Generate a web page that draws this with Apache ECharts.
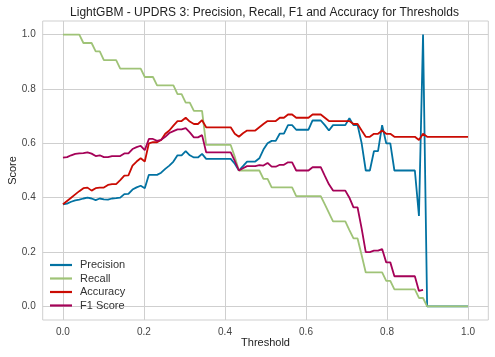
<!DOCTYPE html>
<html>
<head>
<meta charset="utf-8">
<script src="https://cdn.jsdelivr.net/npm/echarts@6/dist/echarts.min.js"></script>
<style>
html,body{margin:0;padding:0;background:#fff;}
#chart{width:495px;height:357px;}
</style>
</head>
<body>
<div id="chart"></div>
<script>
const thresholds = [
0.0000,0.0101,0.0202,0.0303,0.0404,0.0505,0.0606,0.0707,0.0808,0.0909,
0.1010,0.1111,0.1212,0.1313,0.1414,0.1515,0.1616,0.1717,0.1818,0.1919,
0.2020,0.2121,0.2222,0.2323,0.2424,0.2525,0.2626,0.2727,0.2828,0.2929,
0.3030,0.3131,0.3232,0.3333,0.3434,0.3535,0.3636,0.3737,0.3838,0.3939,
0.4040,0.4141,0.4242,0.4343,0.4444,0.4545,0.4646,0.4747,0.4848,0.4949,
0.5051,0.5152,0.5253,0.5354,0.5455,0.5556,0.5657,0.5758,0.5859,0.5960,
0.6061,0.6162,0.6263,0.6364,0.6465,0.6566,0.6667,0.6768,0.6869,0.6970,
0.7071,0.7172,0.7273,0.7374,0.7475,0.7576,0.7677,0.7778,0.7879,0.7980,
0.8081,0.8182,0.8283,0.8384,0.8485,0.8586,0.8687,0.8788,0.8889,0.8990,
0.9091,0.9192,0.9293,0.9394,0.9495,0.9596,0.9697,0.9798,0.9899,1.0000];

const precision = [
0.375,0.378,0.385,0.390,0.393, 0.397,0.400,0.397,0.391,0.397,
0.394,0.393,0.397,0.398,0.400, 0.413,0.414,0.430,0.438,0.444,
0.435,0.484,0.484,0.484,0.492, 0.506,0.518,0.533,0.556,0.556,
0.571,0.556,0.548,0.548,0.561, 0.543,0.543,0.543,0.543,0.543,
0.543,0.543,0.525,0.500,0.516, 0.533,0.533,0.533,0.545,0.577,
0.600,0.609,0.609,0.636,0.636, 0.667,0.667,0.650,0.650,0.650,
0.650,0.684,0.684,0.684,0.667, 0.647,0.667,0.667,0.667,0.667,
0.692,0.667,0.667,0.600,0.500, 0.500,0.571,0.571,0.667,0.600,
0.600,0.500,0.500,0.500,0.500, 0.500,0.500,0.333,1.000,0.000,
0,0,0,0,0, 0,0,0,0,0];

const recall = [
1,1,1,1,1, 0.969,0.969,0.969,0.938,0.938,
0.906,0.906,0.906,0.906,0.875, 0.875,0.875,0.875,0.875,0.875,
0.844,0.844,0.844,0.813,0.813, 0.813,0.813,0.813,0.781,0.781,
0.750,0.750,0.719,0.719,0.719, 0.594,0.594,0.594,0.594,0.594,
0.594,0.594,0.550,0.500,0.500, 0.500,0.500,0.500,0.500,0.469,
0.469,0.438,0.438,0.438,0.438, 0.438,0.438,0.406,0.406,0.406,
0.406,0.406,0.406,0.406,0.375, 0.344,0.313,0.313,0.313,0.313,
0.281,0.250,0.250,0.188,0.125, 0.125,0.125,0.125,0.125,0.094,
0.094,0.063,0.063,0.063,0.063, 0.063,0.063,0.031,0.031,0,
0,0,0,0,0, 0,0,0,0,0];

const accuracy = [
0.376,0.388,0.400,0.412,0.424, 0.435,0.437,0.426,0.435,0.437,
0.437,0.447,0.450,0.450,0.465, 0.481,0.482,0.518,0.533,0.545,
0.533,0.600,0.604,0.604,0.612, 0.635,0.647,0.665,0.682,0.682,
0.694,0.680,0.671,0.671,0.685, 0.659,0.659,0.659,0.659,0.659,
0.659,0.659,0.635,0.624,0.637, 0.647,0.647,0.647,0.659,0.671,
0.682,0.682,0.682,0.694,0.694, 0.706,0.706,0.694,0.694,0.694,
0.694,0.706,0.706,0.706,0.694, 0.682,0.682,0.682,0.682,0.682,
0.682,0.671,0.671,0.647,0.624, 0.624,0.635,0.635,0.647,0.635,
0.635,0.624,0.624,0.624,0.624, 0.624,0.624,0.612,0.635,0.624,
0.624,0.624,0.624,0.624,0.624, 0.624,0.624,0.624,0.624,0.624];

const f1 = [
0.547,0.549,0.556,0.561,0.563, 0.564,0.567,0.562,0.553,0.556,
0.549,0.549,0.553,0.553,0.553, 0.563,0.563,0.579,0.586,0.591,
0.575,0.616,0.616,0.609,0.613, 0.624,0.638,0.645,0.651,0.651,
0.656,0.640,0.622,0.622,0.630, 0.567,0.567,0.567,0.567,0.567,
0.567,0.567,0.535,0.500,0.508, 0.516,0.516,0.516,0.520,0.518,
0.528,0.514,0.514,0.521,0.521, 0.530,0.530,0.500,0.500,0.500,
0.500,0.512,0.512,0.512,0.480, 0.449,0.426,0.426,0.426,0.426,
0.400,0.364,0.364,0.286,0.200, 0.200,0.205,0.205,0.211,0.162,
0.162,0.111,0.111,0.111,0.111, 0.111,0.111,0.057,0.061,null,
null,null,null,null,null, null,null,null,null,null];

const tickValues = [0, 0.2, 0.4, 0.6, 0.8, 1.0];
const tickLabels = ['0.0', '0.2', '0.4', '0.6', '0.8', '1.0'];

const seriesNames = ['Precision', 'Recall', 'Accuracy', 'F1 Score'];
const seriesValues = [precision, recall, accuracy, f1];
const colors = ['#0272a2', '#9fc377', '#ca0b03', '#a50258'];

const FONT = '"Liberation Sans", Arial, sans-serif';

function pairs(vals) {
  return thresholds.map((t, i) => [t, vals[i]]);
}
function labelFor(v) {
  const idx = tickValues.findIndex(t => Math.abs(t - v) < 1e-6);
  return idx >= 0 ? tickLabels[idx] : '';
}

const chart = echarts.init(document.getElementById('chart'), null, {renderer: 'canvas'});
chart.setOption({
  animation: false,
  backgroundColor: '#ffffff',
  title: {
    text: 'LightGBM - UPDRS 3: Precision, Recall, F1 and Accuracy for Thresholds',
    left: 259.5, top: 2, textAlign: 'center',
    textStyle: {fontFamily: FONT, fontSize: 12, fontWeight: 'normal', color: '#222'}
  },
  grid: {
    left: 42.7, right: 6.7, top: 21, bottom: 37,
    show: true, borderColor: '#cfcfcf', borderWidth: 1,
    containLabel: false, outerBoundsMode: 'none'
  },
  legend: {
    orient: 'vertical', left: 45, top: 254.5,
    data: seriesNames,
    icon: 'rect', itemWidth: 22, itemHeight: 2.2, itemGap: 2.5,
    textStyle: {fontFamily: FONT, fontSize: 11, color: '#333', padding: [0,0,0,3]}
  },
  xAxis: {
    type: 'value', min: -0.05, max: 1.05,
    name: 'Threshold', nameLocation: 'middle', nameGap: 17, nameMoveOverlap: false,
    nameTextStyle: {fontFamily: FONT, fontSize: 11, color: '#222'},
    axisLine: {show: false},
    axisTick: {show: false, customValues: tickValues},
    axisLabel: {customValues: tickValues, formatter: labelFor, margin: 7,
      fontFamily: FONT, fontSize: 10, color: '#444'},
    splitLine: {show: true, lineStyle: {color: '#cfcfcf', width: 1}}
  },
  yAxis: {
    type: 'value', min: -0.05, max: 1.05,
    name: 'Score', nameLocation: 'middle', nameGap: 24.5, nameMoveOverlap: false,
    nameTextStyle: {fontFamily: FONT, fontSize: 11, color: '#222'},
    axisLine: {show: false},
    axisTick: {show: false, customValues: tickValues},
    axisLabel: {customValues: tickValues, formatter: labelFor, margin: 7,
      fontFamily: FONT, fontSize: 10, color: '#444'},
    splitLine: {show: true, lineStyle: {color: '#cfcfcf', width: 1}}
  },
  series: seriesNames.map((n, k) => ({
    name: n, type: 'line', data: pairs(seriesValues[k]),
    showSymbol: false, symbol: 'none', connectNulls: false,
    color: colors[k],
    lineStyle: {color: colors[k], width: 1.8},
    itemStyle: {color: colors[k]}
  }))
});
</script>
</body>
</html>
